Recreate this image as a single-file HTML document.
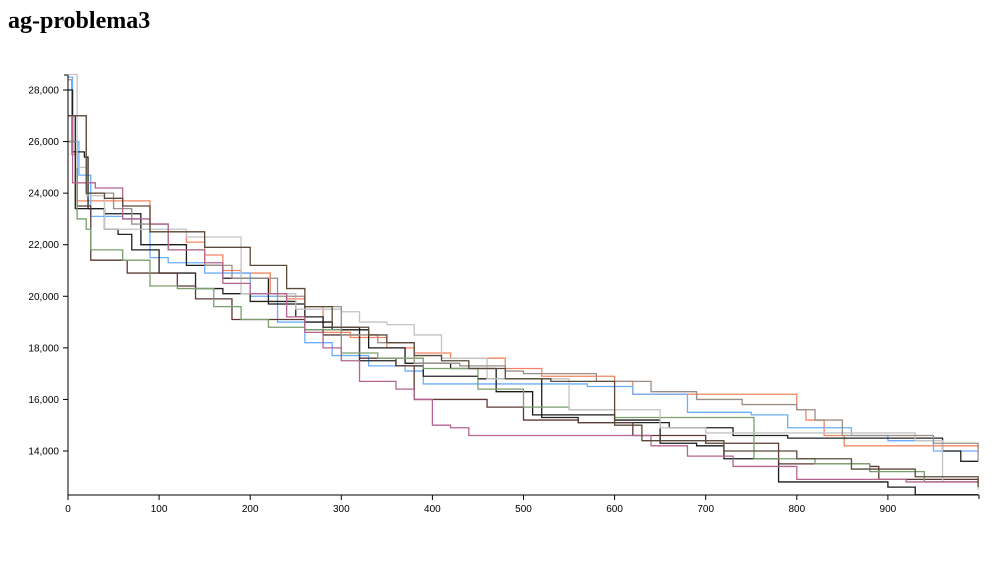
<!DOCTYPE html>
<html><head><meta charset="utf-8"><style>
body{margin:0;background:#fff;width:1000px;height:580px;overflow:hidden;font-family:"Liberation Sans",sans-serif}
h1{position:absolute;left:8px;top:8px;margin:0;font:bold 24px "Liberation Serif",serif;color:#000}
svg{position:absolute;left:0;top:0}
</style></head><body>
<h1>ag-problema3</h1>
<svg id="c" width="1000" height="580"></svg>
<script>
const xTicks=[0,100,200,300,400,500,600,700,800,900];
const yTicks=[14000,16000,18000,20000,22000,24000,26000,28000];
const colors=["#f4845f","#6aaeff","#222222","#1a1a1a","#5c3a33","#7a9e6e","#c4c4c4","#9a8f86","#b5648f","#5a4a3a"];
const sOrange=[[0,28400],[4,25500],[10,23700],[88,23700],[90,22500],[130,22100],[150,21600],[170,21000],[190,20900],[222,20100],[240,19900],[260,19600],[280,18600],[310,18400],[350,18000],[380,17800],[420,17600],[480,17200],[520,16900],[600,16700],[620,16200],[790,16200],[800,15600],[810,15200],[830,14600],[852,14200],[999,14150]];
const sBlue=[[0,28500],[5,26000],[12,24700],[25,23100],[60,23000],[80,22600],[90,21500],[110,21300],[150,20900],[200,20000],[230,19000],[260,18200],[290,17700],[330,17300],[370,17100],[390,16600],[450,16600],[570,16500],[620,16200],[680,15500],[750,15400],[790,14900],[860,14600],[900,14400],[950,14000],[999,13950]];
const sBlack=[[0,28000],[5,25600],[18,25400],[22,23400],[40,22600],[55,22400],[70,21800],[100,20900],[140,20300],[170,20100],[200,19800],[250,19200],[280,18800],[320,17500],[360,17300],[390,16900],[450,16800],[520,15300],[560,15100],[660,14900],[730,14600],[790,14500],[960,14000],[980,13600],[999,13600]];
const sBlack2=[[0,27000],[8,23400],[40,23200],[80,22000],[130,21200],[170,20700],[220,19700],[260,19000],[290,18700],[330,18000],[370,17400],[420,17200],[470,16300],[510,15400],[600,15200],[650,14300],[690,14200],[720,13700],[780,12800],[900,12600],[930,12300],[999,12300]];
const sMaroon=[[0,26000],[10,23500],[25,21400],[60,21400],[65,20900],[120,20400],[140,19900],[170,19900],[180,19100],[240,19100],[260,18700],[280,18500],[320,17600],[360,17300],[380,16000],[440,16000],[460,15700],[500,15200],[560,15100],[620,14600],[700,14300],[780,13500],[880,13400],[890,12900],[999,12750]];
const sGreen=[[0,26000],[10,23000],[20,22600],[25,21800],[60,21400],[90,20400],[120,20300],[160,19600],[190,19100],[220,18800],[260,18700],[300,17800],[340,17600],[390,17200],[450,16400],[500,15700],[550,15600],[600,15300],[750,15300],[753,13700],[820,13500],[880,13200],[940,12800],[999,12750]];
const sLight=[[0,28600],[10,25000],[20,23900],[40,22600],[130,22300],[190,20100],[250,19500],[300,19400],[320,19000],[350,18900],[380,18500],[410,17600],[460,16800],[550,15600],[650,14900],[700,14700],[930,14400],[960,12800],[999,12500]];
const sTaupe=[[0,27000],[20,24000],[50,23400],[70,22800],[110,21800],[150,21200],[180,20700],[230,20000],[260,19600],[300,18500],[340,18200],[380,17400],[430,17300],[480,17100],[500,17000],[580,16700],[640,16300],[690,16000],[740,15800],[800,15600],[820,15200],[850,14600],[920,14600],[950,14300],[999,13600]];
const sPink=[[0,27000],[5,24400],[30,24200],[60,23000],[90,22800],[110,21800],[150,21300],[170,20500],[200,20100],[240,19200],[260,18600],[280,18000],[300,17500],[320,16700],[360,16400],[380,16000],[400,15000],[420,14900],[440,14600],[620,14600],[640,14200],[680,13800],[730,13400],[800,12900],[860,12900],[920,12800],[999,12800]];
const sBrown=[[0,27000],[20,24000],[40,23800],[60,23500],[90,22500],[150,21900],[200,21200],[240,20300],[260,19600],[290,18800],[330,18500],[350,18200],[380,17700],[410,17500],[440,17200],[480,16800],[530,16700],[600,15000],[630,14400],[660,14400],[720,14000],[800,13700],[860,13300],[930,13000],[999,12600]];
const series=[sOrange,sBlue,sBlack,sBlack2,sMaroon,sGreen,sLight,sTaupe,sPink,sBrown];
const NS="http://www.w3.org/2000/svg",svg=document.getElementById('c');
const X=v=>68+v*0.911, Y=v=>90+(28000-v)*51.57/2000;
function mk(t,a,p){const e=document.createElementNS(NS,t);for(const k in a)e.setAttribute(k,a[k]);(p||svg).appendChild(e);return e;}
series.forEach((s,i)=>{let d="M"+X(s[0][0])+","+Y(s[0][1]);for(let j=1;j<s.length;j++){d+="H"+X(s[j][0])+"V"+Y(s[j][1]);}
const p=mk('path',{d:d,fill:'none',stroke:colors[i],'stroke-width':1.3});

});
const ax=mk('g',{});


mk('line',{x1:68,y1:75,x2:68,y2:495,stroke:'#000'},ax);
mk('line',{x1:68,y1:495,x2:979,y2:495,stroke:'#000'},ax);
mk('line',{x1:64,y1:75,x2:68,y2:75,stroke:'#000'},ax);
mk('line',{x1:979,y1:495,x2:979,y2:499,stroke:'#000'},ax);
xTicks.forEach(v=>{mk('line',{x1:X(v),y1:495,x2:X(v),y2:500,stroke:'#000'},ax);
const t=mk('text',{x:X(v),y:512,'text-anchor':'middle','font-size':10},ax);t.textContent=v;

});
yTicks.forEach(v=>{mk('line',{x1:63,y1:Y(v),x2:68,y2:Y(v),stroke:'#000'},ax);
const t=mk('text',{x:59,y:Y(v)+3.5,'text-anchor':'end','font-size':10},ax);t.textContent=v.toLocaleString('en-US');

});
</script>
</body></html>
